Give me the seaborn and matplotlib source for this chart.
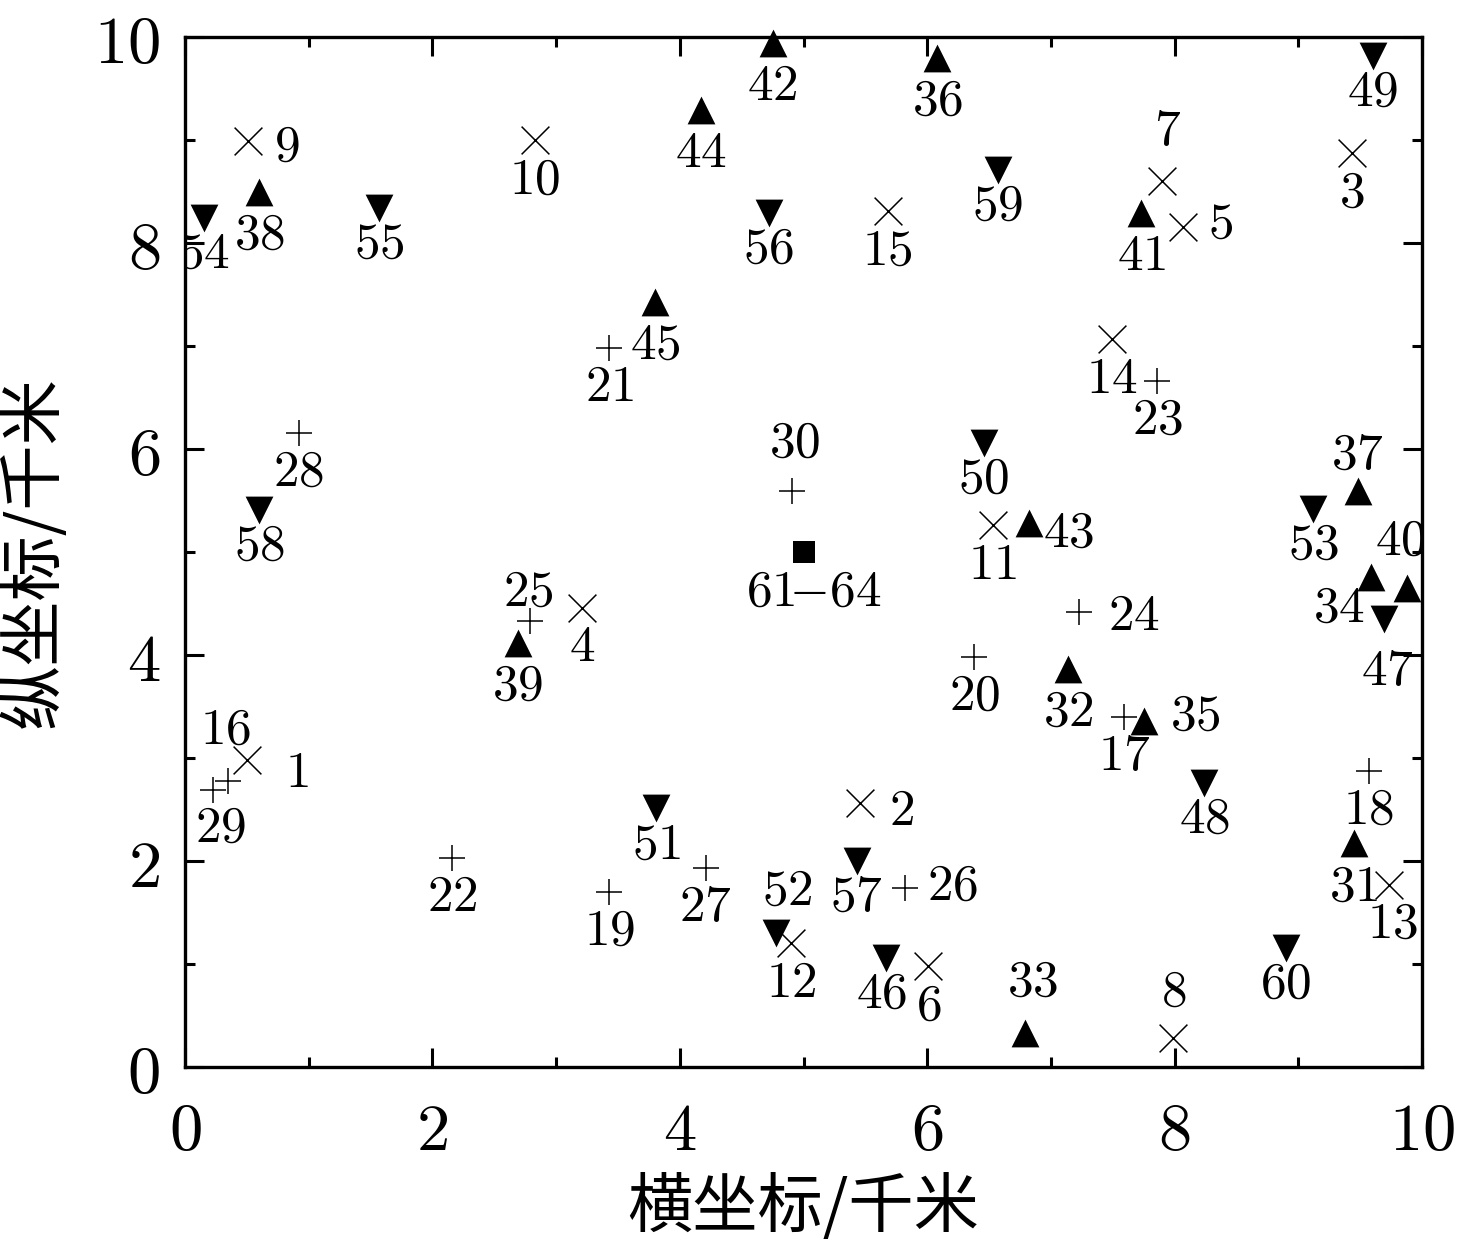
import matplotlib
matplotlib.use("Agg")
import matplotlib.pyplot as plt
import seaborn as sns
import pandas as pd

# ---- data (km) ----
x_cross = [0.50, 5.46, 9.43, 3.21, 8.07, 6.01, 7.90, 7.99, 0.51, 2.83, 6.53, 4.90, 9.73, 7.49, 5.68]
y_cross = [2.98, 2.56, 8.87, 4.46, 8.16, 0.98, 8.60, 0.28, 8.99, 9.00, 5.26, 1.20, 1.77, 7.07, 8.31]
x_plus = [0.35, 7.59, 9.57, 3.43, 6.38, 3.43, 2.16, 7.86, 7.23, 2.79, 5.82, 4.21, 0.92, 0.23, 4.91]
y_plus = [2.78, 3.40, 2.87, 1.70, 3.98, 6.98, 2.03, 6.66, 4.42, 4.33, 1.74, 1.93, 6.16, 2.69, 5.59]
x_up = [9.45, 7.14, 6.79, 9.59, 7.75, 6.08, 9.48, 0.60, 2.69, 9.88, 7.73, 4.75, 6.82, 4.17, 3.80]
y_up = [2.17, 3.86, 0.33, 4.76, 3.36, 9.80, 5.59, 8.50, 4.12, 4.65, 8.29, 9.94, 5.28, 9.29, 7.43]
x_down = [5.67, 9.69, 8.24, 9.60, 6.46, 3.81, 4.78, 9.12, 0.15, 1.57, 4.72, 5.43, 0.60, 6.57, 8.90]
y_down = [1.06, 4.35, 2.76, 9.82, 6.06, 2.51, 1.30, 5.42, 8.24, 8.34, 8.29, 2.00, 5.41, 8.71, 1.16]
x_sq = [5.0]
y_sq = [5.0]

labels_cross = [str(i) for i in range(1, 16)]
labels_plus = [str(i) for i in range(16, 31)]
labels_up = [str(i) for i in range(31, 46)]
labels_down = [str(i) for i in range(46, 61)]
labels_sq = ["61\\!{-}64"]

tick_values = [0, 2, 4, 6, 8, 10]
xlabel = "横坐标/千米"
ylabel = "纵坐标/千米"

# ---- style ----
sns.set_style("ticks")
plt.rcParams["font.family"] = ["Noto Sans CJK SC", "DejaVu Sans"]
plt.rcParams["mathtext.fontset"] = "cm"
plt.rcParams["text.color"] = "black"
plt.rcParams["axes.labelcolor"] = "black"
plt.rcParams["xtick.color"] = "black"
plt.rcParams["ytick.color"] = "black"
plt.rcParams["xtick.labelcolor"] = "black"
plt.rcParams["ytick.labelcolor"] = "black"

fig = plt.figure(figsize=(14.6, 12.51), dpi=100)
ax = fig.add_axes([0.1267, 0.1471, 0.8473, 0.8233])

groups = [
    (x_cross, y_cross, labels_cross, "x", 400, 1.1, 39),
    (x_plus, y_plus, labels_plus, "+", 340, 1.1, 38),
    (x_up, y_up, labels_up, "^", 400, 0, 42),
    (x_down, y_down, labels_down, "v", 400, 0, 35),
    (x_sq, y_sq, labels_sq, "s", 240, 0, 39),
]

# label offsets in pixels (dx right, dy down)
overrides = {
    "1": (50, 12), "2": (41, 7), "5": (37, -4), "7": (5, -51), "8": (0, -47),
    "9": (39, 5), "13": (4, 38), "16": (-3, -52), "24": (55, 4), "25": (-2, -30),
    "26": (48, -3), "29": (7, 37), "30": (2, -49), "33": (8, -52), "34": (-32, 30),
    "35": (52, -6), "37": (0, -37), "40": (-7, -48), "43": (40, 9), "46": (-5, 35),
    "47": (4, 51), "52": (11, -43), "61\\!{-}64": (10, 39),
}

for xs, ys, labs, mk, s, lw, dy_def in groups:
    df = pd.DataFrame({"x": xs, "y": ys})
    sns.scatterplot(data=df, x="x", y="y", marker=mk, s=s, color="black",
                    linewidth=lw, edgecolor="black" if mk in "^vs" else None,
                    ax=ax, legend=False, clip_on=False, zorder=3)
    for xv, yv, lab in zip(xs, ys, labs):
        dx, dy = overrides.get(lab, (0, dy_def))
        ax.annotate(f"${lab}$", (xv, yv), xytext=(dx * 0.72, -dy * 0.72),
                    textcoords="offset points", ha="center", va="center",
                    fontsize=37, color="black", clip_on=True, zorder=4)

ax.set_xlim(0, 10)
ax.set_ylim(0, 10)
ax.set_xticks(tick_values)
ax.set_yticks(tick_values)
ax.set_xticks([1, 3, 5, 7, 9], minor=True)
ax.set_yticks([1, 3, 5, 7, 9], minor=True)
ax.set_xticklabels([f"${v}$" for v in tick_values], fontsize=48)
ax.set_yticklabels([f"${v}$" for v in tick_values], fontsize=48)
ax.tick_params(which="both", direction="in", top=True, right=True, width=2.2,
               color="black", labelcolor="black")
ax.tick_params(which="major", length=14, pad=18)
ax.tick_params(which="minor", length=7)
ax.tick_params(axis="x", which="major", pad=22)
for sp in ax.spines.values():
    sp.set_linewidth(2.4)
    sp.set_color("black")
    sp.set_visible(True)

ax.set_xlabel(xlabel, fontsize=47, color="black")
ax.set_ylabel(ylabel, fontsize=47, color="black")
ax.xaxis.set_label_coords(0.5, -0.105)
ax.yaxis.set_label_coords(-0.095, 0.5)

fig.savefig("out.png", dpi=100, facecolor="white")
